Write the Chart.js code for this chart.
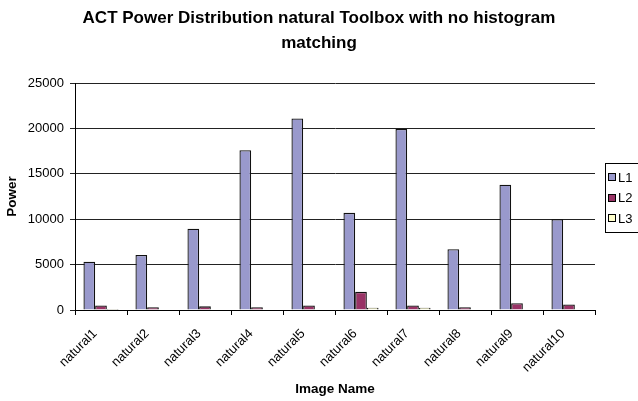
<!DOCTYPE html>
<html>
<head>
<meta charset="utf-8">
<script src="https://cdn.jsdelivr.net/npm/chart.js@4/dist/chart.umd.min.js"></script>
<style>
  html, body { margin: 0; padding: 0; background: #fff; }
  #wrap { width: 638px; height: 401px; position: relative; }
</style>
</head>
<body>
<div id="wrap"><canvas id="c" width="638" height="401"></canvas></div>
<script>
// Image names along the x axis
const categories = ['natural1', 'natural2', 'natural3', 'natural4', 'natural5',
                    'natural6', 'natural7', 'natural8', 'natural9', 'natural10'];
// Power per decomposition level
const L1 = [5320, 6050, 8950, 17600, 21100, 10700, 19950, 6700, 13800, 10000];
const L2 = [500, 300, 400, 300, 500, 2000, 500, 300, 750, 600];
const L3 = [100, 0, 0, 0, 0, 250, 250, 0, 0, 0];
const seriesNames = ['L1', 'L2', 'L3'];
const yTicks = [0, 5000, 10000, 15000, 20000, 25000];

const titleLines = ['ACT Power Distribution natural Toolbox with no histogram', 'matching'];
const xTitle = 'Image Name';
const yTitle = 'Power';

const colors = ['#9999CC', '#993366', '#FFFFCC'];
const FONT = '"Liberation Sans", Arial, sans-serif';

// Two-line bold heading centred above the plot
const headingPlugin = {
  id: 'heading',
  afterDraw(chart) {
    const ctx = chart.ctx;
    ctx.save();
    ctx.fillStyle = '#000';
    ctx.font = 'bold 17px ' + FONT;
    ctx.textAlign = 'center';
    ctx.textBaseline = 'middle';
    titleLines.forEach((t, i) => ctx.fillText(t, 319, 18 + i * 25));
    ctx.restore();
  }
};

// Boxed legend on the right, built from the datasets
const boxedLegend = {
  id: 'boxedLegend',
  afterDraw(chart) {
    const ctx = chart.ctx;
    ctx.save();
    ctx.strokeStyle = '#000';
    ctx.lineWidth = 1;
    ctx.strokeRect(605.5, 163.5, 50, 69);
    ctx.font = '13px ' + FONT;
    ctx.textBaseline = 'middle';
    ctx.textAlign = 'left';
    chart.data.datasets.forEach((ds, i) => {
      const cy = 177 + i * 20.5;
      ctx.fillStyle = ds.backgroundColor;
      ctx.fillRect(608.5, Math.round(cy - 4) + 0.5, 7, 7);
      ctx.strokeStyle = '#000';
      ctx.strokeRect(608.5, Math.round(cy - 4) + 0.5, 7, 7);
      ctx.fillStyle = '#000';
      ctx.fillText(ds.label, 618, cy + 1);
    });
    ctx.restore();
  }
};

const seriesData = [L1, L2, L3];

new Chart(document.getElementById('c'), {
  type: 'bar',
  data: {
    labels: categories,
    datasets: seriesNames.map((name, i) => ({
      label: name,
      data: seriesData[i],
      backgroundColor: colors[i],
      borderColor: '#111',
      borderWidth: 1.3,
      categoryPercentage: 0.675,
      barPercentage: 1.0
    }))
  },
  options: {
    responsive: false,
    animation: false,
    devicePixelRatio: 1,
    layout: { padding: { top: 83, right: 43, left: 0, bottom: 0 } },
    plugins: {
      legend: { display: false },
      title: { display: false },
      tooltip: { enabled: false }
    },
    scales: {
      x: {
        grid: {
          display: true,
          offset: true,
          drawOnChartArea: false,
          drawTicks: true,
          tickLength: 5,
          color: '#000'
        },
        border: { display: true, color: '#000', width: 1 },
        ticks: {
          color: '#000',
          font: { family: FONT, size: 13 },
          minRotation: 45,
          maxRotation: 45,
          padding: 11,
          labelOffset: -6,
          autoSkip: false
        },
        title: {
          display: true,
          text: xTitle,
          color: '#000',
          font: { family: FONT, size: 13.5, weight: 'bold' },
          padding: { top: 4, bottom: 4 }
        },
        afterFit(scale) { scale.height = 91; }
      },
      y: {
        min: 0,
        max: 25000,
        afterBuildTicks(scale) { scale.ticks = yTicks.map(v => ({ value: v })); },
        grid: {
          display: true,
          drawOnChartArea: true,
          drawTicks: true,
          tickLength: 5,
          color: '#222'
        },
        border: { display: true, color: '#000', width: 1 },
        ticks: {
          color: '#000',
          font: { family: FONT, size: 13 },
          padding: 6,
          callback: (v) => String(v)
        },
        title: {
          display: true,
          text: yTitle,
          color: '#000',
          font: { family: FONT, size: 13.5, weight: 'bold' },
          padding: { top: 4, bottom: 4 }
        },
        afterFit(scale) { scale.width = 75; }
      }
    }
  },
  plugins: [headingPlugin, boxedLegend]
});
</script>
</body>
</html>
